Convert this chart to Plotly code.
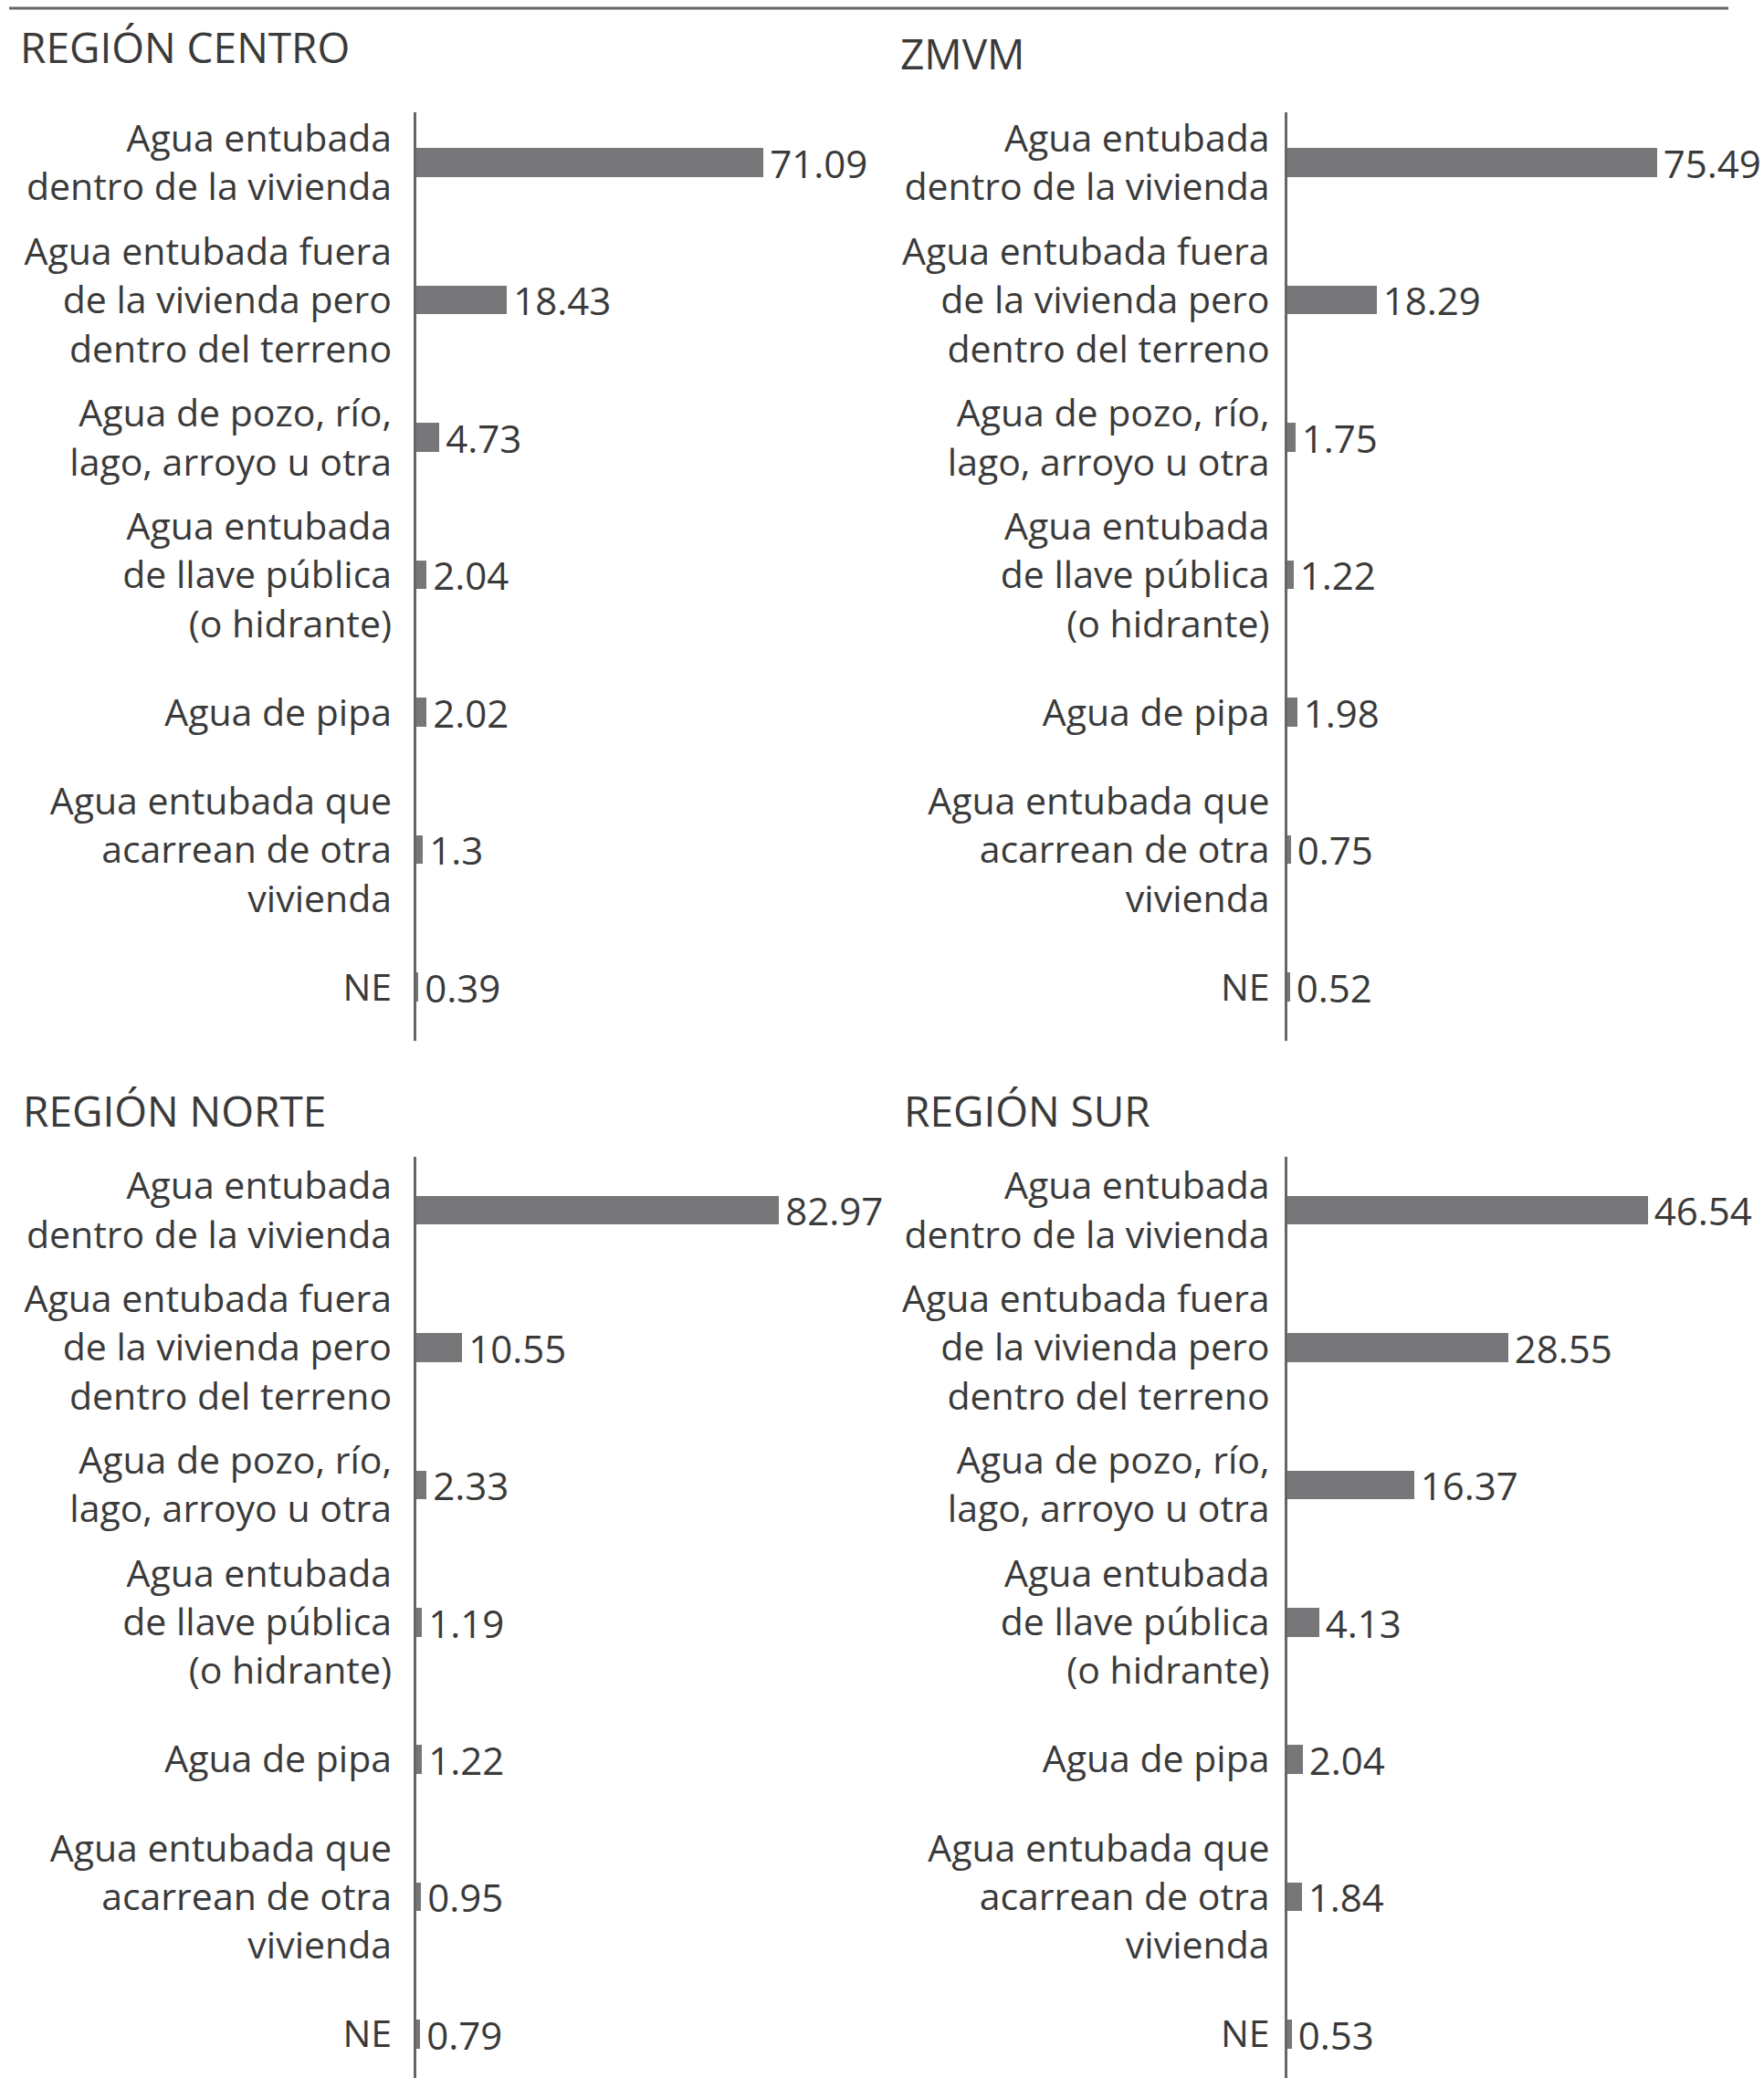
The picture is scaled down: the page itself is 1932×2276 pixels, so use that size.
import plotly.graph_objects as go

# Categories (top to bottom) and values per region
categorias = [
    "Agua entubada<br>dentro de la vivienda",
    "Agua entubada fuera<br>de la vivienda pero<br>dentro del terreno",
    "Agua de pozo, río,<br>lago, arroyo u otra",
    "Agua entubada<br>de llave pública<br>(o hidrante)",
    "Agua de pipa",
    "Agua entubada que<br>acarrean de otra<br>vivienda",
    "NE",
]

region_centro = [71.09, 18.43, 4.73, 2.04, 2.02, 1.3, 0.39]
zmvm = [75.49, 18.29, 1.75, 1.22, 1.98, 0.75, 0.52]
region_norte = [82.97, 10.55, 2.33, 1.19, 1.22, 0.95, 0.79]
region_sur = [46.54, 28.55, 16.37, 4.13, 2.04, 1.84, 0.53]

titulos = ["REGIÓN CENTRO", "ZMVM", "REGIÓN NORTE", "REGIÓN SUR"]

W, H = 1932, 2276
FONT = "Open Sans"
TXT = "#3a3a3a"
BAR = "#77777a"
AXIS = "#666666"


def px(sx):
    return sx / W


def py(sy):
    return 1 - sy / H


# panel layout: (values, x domain, y domain, x range max, y range, label standoff)
top = [py(1139.5), py(123.4)]
bottom = [0.0, py(1267)]
left = [px(456), px(956)]
right = [px(1409.5), px(1909.5)]
paneles = [
    (region_centro, left, top, 93.5, [6.385, -0.366], 16),
    (zmvm, right, top, 93.2, [6.385, -0.366], 8),
    (region_norte, left, bottom, 104.5, [6.32, -0.39], 16),
    (region_sur, right, bottom, 58.9, [6.32, -0.39], 8),
]

fig = go.Figure()
layout = {}
for i, (vals, xd, yd, xmax, yr, standoff) in enumerate(paneles, start=1):
    sfx = "" if i == 1 else str(i)
    fig.add_trace(go.Bar(
        x=vals, y=categorias, orientation="h",
        xaxis="x" + sfx, yaxis="y" + sfx,
        width=0.21, marker=dict(color=BAR, line=dict(width=0)),
        text=["\u200a" + f"{v:g}" for v in vals], textposition="outside",
        textfont=dict(family=FONT, size=42, color=TXT),
        constraintext="none", cliponaxis=False, showlegend=False,
        hoverinfo="skip",
    ))
    layout["xaxis" + sfx] = dict(domain=xd, range=[0, xmax], visible=False,
                                 anchor="y" + sfx, fixedrange=True)
    layout["yaxis" + sfx] = dict(
        domain=yd, anchor="x" + sfx, type="category",
        categoryarray=categorias, range=yr,
        showline=True, linecolor=AXIS, linewidth=2.5,
        showgrid=False, zeroline=False, ticks="",
        ticklabelstandoff=standoff,
        tickfont=dict(family=FONT, size=41, color=TXT),
    )

fig.update_layout(**layout)

# region titles
pos_titulos = [(20, 51), (984, 58), (23, 1216), (988, 1216)]
for t, (sx, sy) in zip(titulos, pos_titulos):
    fig.add_annotation(text=t, x=px(sx), y=py(sy), xref="paper", yref="paper",
                       xanchor="left", yanchor="middle", showarrow=False,
                       font=dict(family=FONT, size=46, color=TXT))

# rule across the top
fig.add_shape(type="line", xref="paper", yref="paper",
              x0=px(10), x1=px(1893), y0=py(9), y1=py(9),
              line=dict(color=AXIS, width=3))

fig.update_layout(
    width=W, height=H,
    margin=dict(l=0, r=0, t=0, b=0),
    paper_bgcolor="white", plot_bgcolor="white",
    bargap=0,
)

# drop the default 8px body margin so the figure fills the window exactly
fig.write_html("out.html",
               config={"displayModeBar": False},
               post_script="document.body.style.margin='0';"
                           "document.body.style.overflow='hidden';")
